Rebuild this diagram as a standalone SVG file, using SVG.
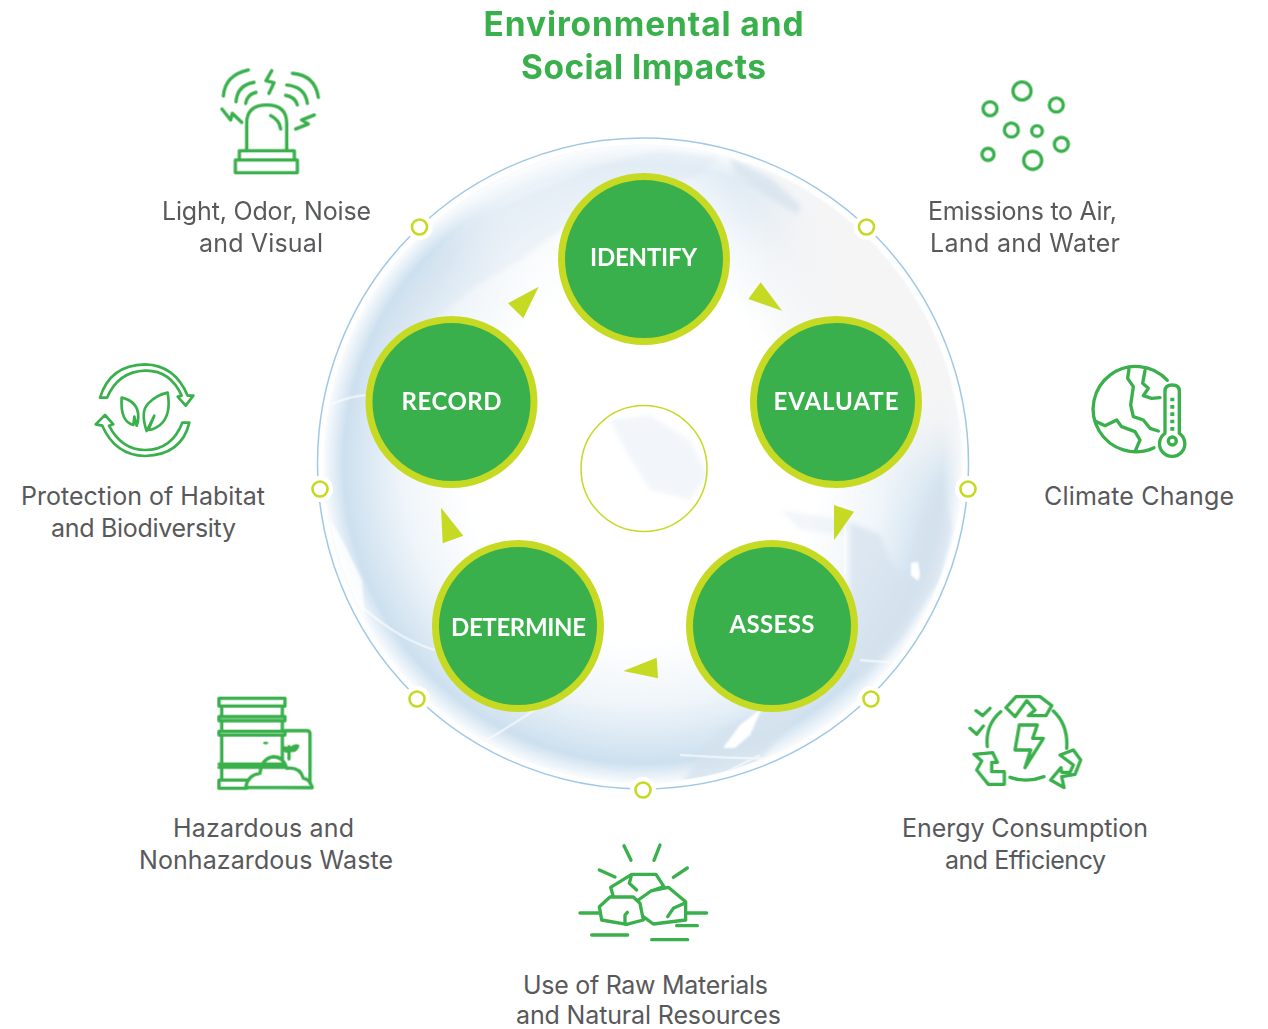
<svg xmlns="http://www.w3.org/2000/svg" width="1268" height="1029" viewBox="0 0 1268 1029">
<style>
text{font-family:Inter,"Liberation Sans",sans-serif;text-anchor:middle}
.t{font-size:33.5px;font-weight:700;fill:#39b04c}
.l{font-size:25px;fill:#58595b}
.n{font-family:Lato,"Liberation Sans",sans-serif;font-size:24px;font-weight:700;fill:#fff}
.c{fill:#39b04c;stroke:#c6d923;stroke-width:7}
.d{fill:#fff;stroke:#c6d923;stroke-width:2.6}
.h{fill:#fff}
.a{fill:#c6d923}
.i{fill:none;stroke:#39b04c;stroke-width:10;stroke-linecap:round;stroke-linejoin:round}
.land{fill:#d5e2ee}
.w{fill:none;stroke:#fff;stroke-width:2.5;opacity:.55}
</style>
<defs>
<radialGradient id="gb" cx="643" cy="464" r="322" gradientUnits="userSpaceOnUse">
<stop offset="0" stop-color="#fff"/><stop offset=".55" stop-color="#fff"/><stop offset=".75" stop-color="#eff5fa"/><stop offset=".93" stop-color="#cde0ef"/><stop offset="1" stop-color="#fff"/>
</radialGradient>
<filter id="big" filterUnits="userSpaceOnUse" x="200" y="0" width="900" height="900"><feGaussianBlur stdDeviation="28"/></filter>
<filter id="b" filterUnits="userSpaceOnUse" x="300" y="120" width="700" height="700"><feGaussianBlur stdDeviation="2.5"/></filter>
<filter id="b2" filterUnits="userSpaceOnUse" x="300" y="120" width="700" height="700"><feGaussianBlur stdDeviation="1"/></filter>
<clipPath id="cg"><circle cx="643" cy="464" r="318"/></clipPath>
</defs>
<rect width="1268" height="1029" fill="#fff"/>
<g id="globe">
<circle cx="643" cy="464" r="320" fill="url(#gb)"/>
<g clip-path="url(#cg)">
<path d="M740 130H1000V440L900 470L800 360Z" fill="#f5f5f6" filter="url(#big)"/>
<path d="M440 130H730V300L560 330L470 260Z" fill="#fff" opacity=".6" filter="url(#big)"/>
<g filter="url(#b)">
<path class="land" opacity=".3" d="M440 260L480 215L540 190L600 165L660 150L720 158L700 175L640 190L580 215L520 260L470 290L420 330L380 330Z"/>
<path class="land" opacity=".75" d="M730 158L770 178L800 205L798 215L765 195L735 172Z"/>
<path class="land" opacity=".3" d="M610 420L650 415L690 440L708 475L690 500L650 490L625 450Z"/>
<path class="land" opacity=".3" d="M780 510L815 515L850 522L845 535L800 530Z"/>
<path class="land" opacity=".75" d="M850 522L880 535L890 560L905 576L918 530L940 476L952 530L940 580L900 640L860 680L840 650L850 600Z"/>
<path class="land" opacity=".8" d="M680 785L720 730L780 705L830 690L790 725L760 760L720 785Z"/>
</g>
<path d="M325 510L345 545L362 580L365 620L380 645L365 640L335 580Z" fill="#fff" opacity=".8" filter="url(#b2)"/>
<path d="M723 748L740 725L762 708L750 735L735 748Z" fill="#fff" filter="url(#b2)"/>
<path d="M911 563L918 562L920 575L918 581L911 575Z" fill="#fff" filter="url(#b2)"/>
<path class="w" d="M325 407Q350 395 370 395M362 607Q400 640 435 650M487 740Q520 720 550 700M860 660Q880 662 890 662M760 755L690 790M680 755Q760 760 790 758M845 505V575"/>
</g>
</g>
<circle id="ring" cx="643" cy="463.5" r="325.5" fill="none" stroke="#9fc8e6" stroke-width="1.5"/>
<circle id="center" cx="644" cy="468.5" r="63" fill="none" stroke="#c6d923" stroke-width="1.5"/>
<g id="dots">
<circle class="h" cx="419.5" cy="227" r="13"/><circle class="d" cx="419.5" cy="227" r="7.5"/>
<circle class="h" cx="866.5" cy="227" r="13"/><circle class="d" cx="866.5" cy="227" r="7.5"/>
<circle class="h" cx="320" cy="489" r="13"/><circle class="d" cx="320" cy="489" r="7.5"/>
<circle class="h" cx="968" cy="489" r="13"/><circle class="d" cx="968" cy="489" r="7.5"/>
<circle class="h" cx="417" cy="699" r="13"/><circle class="d" cx="417" cy="699" r="7.5"/>
<circle class="h" cx="871" cy="699" r="13"/><circle class="d" cx="871" cy="699" r="7.5"/>
<circle class="h" cx="643" cy="790" r="13"/><circle class="d" cx="643" cy="790" r="7.5"/>
</g>
<g id="connectors">
<polygon class="a" points="538.7,286.7 508,303.3 523.3,318.3"/>
<polygon class="a" points="760.7,282.3 748.3,299 782,310.7"/>
<polygon class="a" points="834,505 854,511.7 834,540.3"/>
<polygon class="a" points="623.3,671 656.7,657.7 658,678.3"/>
<polygon class="a" points="441,507.7 463.3,535.7 442.7,543.3"/>
</g>
<g id="identify"><circle class="c" cx="644" cy="259" r="82.5"/><text class="n" x="643.5" y="266" textLength="107">IDENTIFY</text></g>
<g id="record"><circle class="c" cx="451.5" cy="402" r="82.5"/><text class="n" x="451.5" y="409.5" textLength="100">RECORD</text></g>
<g id="evaluate"><circle class="c" cx="836" cy="402" r="82.5"/><text class="n" x="836" y="409.5" textLength="125">EVALUATE</text></g>
<g id="determine"><circle class="c" cx="518" cy="626" r="82.5"/><text class="n" x="518.5" y="636" textLength="135">DETERMINE</text></g>
<g id="assess"><circle class="c" cx="772" cy="626" r="82.5"/><text class="n" x="772" y="633" textLength="85">ASSESS</text></g>
<g id="title"><text class="t" x="643.5" y="36" textLength="320">Environmental and</text><text class="t" x="643.5" y="79" textLength="245">Social Impacts</text></g>
<g id="light">
<g transform="translate(200 60) scale(.3333)"><path class="i" d="M70 108Q75 45 145 30M108 125Q112 75 162 67M137 130Q142 102 168 97M215 32L198 62L222 68L207 100M277 40Q345 45 355 112M260 75Q315 80 322 130M257 106Q285 110 292 135M66 147L92 180L97 160L125 187M287 207L325 192L305 180L343 165M140 270V190Q140 135 200 135Q260 135 260 190V270M212 167Q238 180 242 207M118 298V272H283V298M106 300H292V338H106Z"/></g>
<text class="l" x="266.5" y="220" textLength="209">Light, Odor, Noise</text><text class="l" x="261" y="252" textLength="124">and Visual</text></g>
<g id="emissions">
<g transform="translate(960 70) scale(.3333)" class="i"><circle cx="186" cy="63" r="27"/><circle cx="90" cy="116" r="21"/><circle cx="289" cy="105" r="21"/><circle cx="154" cy="180" r="21"/><circle cx="231" cy="183" r="16"/><circle cx="304" cy="223" r="21"/><circle cx="84" cy="253" r="18"/><circle cx="218" cy="271" r="27"/></g>
<text class="l" x="1022.5" y="220" textLength="189">Emissions to Air,</text><text class="l" x="1025" y="252" textLength="190">Land and Water</text></g>
<g id="climate">
<g transform="translate(1080 355) scale(.3333)"><path class="i" d="M262 76A128 128 0 1 0 222 278M147 42L143 70L160 95L152 150L160 185L190 195L210 220L235 228M195 47L188 85L205 100L190 122L215 130L240 128M50 200L75 212L110 195L125 215L165 230L180 255L165 290M255 235V108Q255 90 277 90Q298 90 298 108V235A38 38 0 1 1 255 235Z"/><circle class="i" cx="277" cy="258" r="12"/><path fill="#39b04c" d="M271 128h12v11h-12zM271 150h12v11h-12zM271 172h12v11h-12zM271 194h12v11h-12zM271 216h12v11h-12z"/></g>
<text class="l" x="1139" y="505" textLength="190">Climate Change</text></g>
<g id="habitat">
<g transform="translate(85 355) scale(.3333)"><path class="i" style="stroke-width:8" d="M45 128Q75 30 180 28Q270 30 308 122L325 122L302 152L278 125L290 122Q255 45 180 47Q100 50 66 128ZM313 203Q290 300 180 303Q90 300 52 212L32 208L60 180L85 208L72 212Q110 285 180 285Q260 285 292 203ZM110 128Q160 140 160 185Q160 200 155 212L148 185L145 210Q105 200 110 128ZM248 113Q260 180 225 210Q205 225 190 225L208 182L185 228Q165 170 190 145Q215 120 248 113Z"/></g>
<text class="l" x="143" y="505" textLength="244">Protection of Habitat</text><text class="l" x="143.5" y="537" textLength="185">and Biodiversity</text></g>
<g id="waste">
<g transform="translate(205 690) scale(.3333)"><path class="i" d="M42 25H240V48H42ZM50 48V78M232 48V78M42 80H240V92H42ZM50 92V122M232 92V122M42 124H240V135H42ZM50 135V222M232 135V210M42 222H240V232H42M50 232V270M42 270H130M42 270V295H125M50 232H160M240 122H305Q315 122 315 132V280M252 207V170M252 180Q240 170 237 175Q240 188 252 180M252 180Q268 165 278 168Q272 185 252 180M122 292Q128 255 165 250Q170 205 205 200Q235 200 245 235Q285 230 295 265Q315 268 322 293Z"/><ellipse cx="182" cy="159" rx="8" ry="4" fill="#39b04c"/></g>
<text class="l" x="263.5" y="837" textLength="181">Hazardous and</text><text class="l" x="266" y="869" textLength="254">Nonhazardous Waste</text></g>
<g id="energy">
<g transform="translate(960 685) scale(.3333)"><path class="i" d="M280 78Q325 120 320 190M122 80Q75 120 82 185M150 277Q200 295 252 275M178 120H232L218 160H250L195 248L212 195H165ZM48 77L68 92L90 70M30 130L50 148L70 123M165 95L138 68L168 35H240L275 62L258 92H205L225 75L200 47ZM42 208L98 203L112 232L95 232L95 260H133V298H85L50 255L65 228ZM300 210L340 195L362 225L345 268L305 275L312 308L272 285L303 248L305 262L330 262L340 240Z"/></g>
<text class="l" x="1025" y="837" textLength="246">Energy Consumption</text><text class="l" x="1025.5" y="869" textLength="161">and Efficiency</text></g>
<g id="materials">
<g transform="translate(570 835) scale(.3333)"><path class="i" d="M162 32L183 76M270 30L252 76M88 105L135 126M352 99L310 127M130 185L122 157L185 118H258L282 155L243 168L205 195M185 118L178 145L200 165M88 215L120 186H190L210 205L220 255L170 268L95 255ZM165 268V240L172 232M205 195L243 168L295 157L347 200V255L250 267L220 245M347 203L310 220L293 245M30 234H88M347 234H410M320 272H382M65 300H173M245 314H353"/></g>
<text class="l" x="645.5" y="994" textLength="245">Use of Raw Materials</text><text class="l" x="648.5" y="1024" textLength="265">and Natural Resources</text></g>
</svg>
